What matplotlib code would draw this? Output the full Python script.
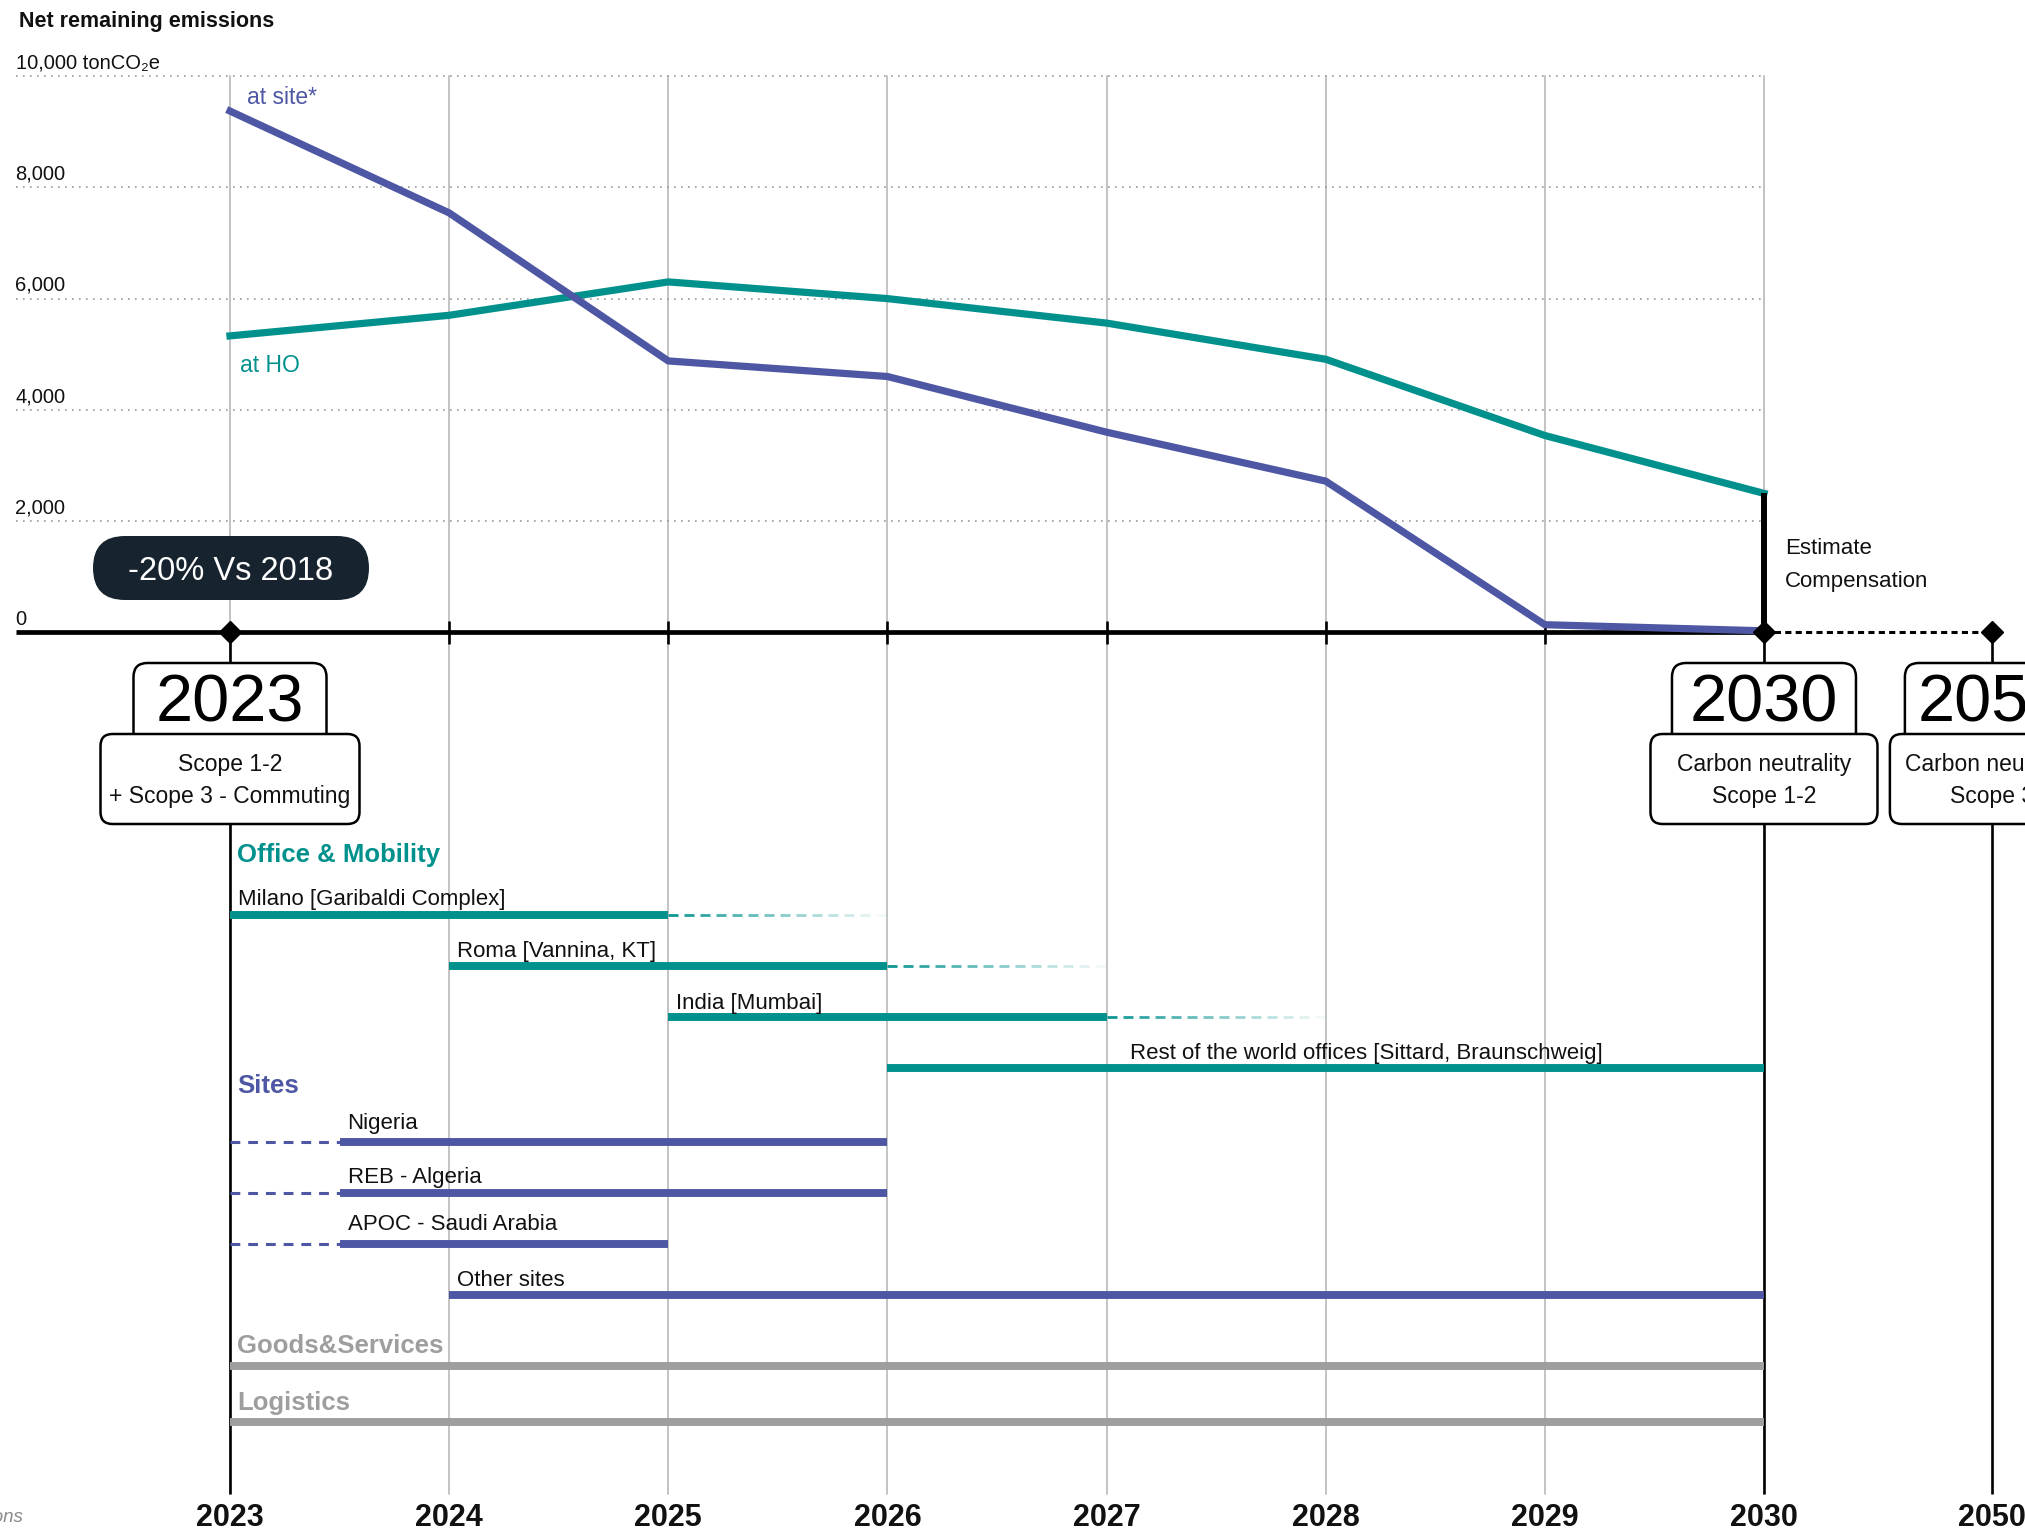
import matplotlib
matplotlib.use("Agg")
import matplotlib.pyplot as plt
from matplotlib.patches import FancyBboxPatch
from matplotlib.collections import LineCollection
from matplotlib.transforms import blended_transform_factory, offset_copy
from matplotlib.colors import to_rgba

plt.rcParams['font.family'] = ['Liberation Sans', 'DejaVu Sans']

# ---------------- data ----------------
years = [2023, 2024, 2025, 2026, 2027, 2028, 2029, 2030]
at_site = [9370, 7540, 4880, 4600, 3600, 2720, 140, 30]
at_ho = [5330, 5700, 6300, 6000, 5560, 4910, 3540, 2500]
ytick_values = [0, 2000, 4000, 6000, 8000, 10000]
ytick_labels = ["0", "2,000", "4,000", "6,000", "8,000", "10,000 tonCO\u2082e"]
bottom_years = [2023, 2024, 2025, 2026, 2027, 2028, 2029, 2030, 2050]

office_names = ["Milano [Garibaldi Complex]", "Roma [Vannina, KT]", "India [Mumbai]",
                "Rest of the world offices [Sittard, Braunschweig]"]
office_start = [2023, 2024, 2025, 2026]
office_end = [2025, 2026, 2027, 2030]
office_fade_end = [2026, 2027, 2028, None]
office_label_at = [2023, 2024, 2025, 2027.07]

site_names = ["Nigeria", "REB - Algeria", "APOC - Saudi Arabia", "Other sites"]
site_dash_start = [2023, 2023, 2023, None]
site_start = [2023.5, 2023.5, 2023.5, 2024]
site_end = [2026, 2026, 2025, 2030]

other_names = ["Goods&Services", "Logistics"]
other_start = [2023, 2023]
other_end = [2030, 2030]

milestones = [2023, 2030, 2050]
milestone_lines = [["Scope 1-2", "+ Scope 3 - Commuting"],
                   ["Carbon neutrality", "Scope 1-2"],
                   ["Carbon neutrality", "Scope 3"]]

TEAL = "#01918d"
PURPLE = "#4e57a3"
GREY = "#9e9e9e"
NAVY = "#172430"
GRID = "#b3b3b3"


def xp(year):
    # position on the (non-linear) timeline axis
    return (year - 2023) if year <= 2030 else 8.04


W, H = 2025, 1528
fig = plt.figure(figsize=(W / 100, H / 100), dpi=100)
fig.patch.set_facecolor("white")

PX_UNIT = 219.14          # px per year step
X_ORIGIN = 230.0          # px of 2023
X0 = -X_ORIGIN / PX_UNIT
X1 = (W - X_ORIGIN) / PX_UNIT
ZERO_PX = 632.5
PX_PER_K = 55.65
YT = ZERO_PX / PX_PER_K * 1000
YB = -(H - ZERO_PX) / PX_PER_K * 1000
DY = 3  # small text baseline nudge

lay = fig.add_axes([0, 0, 1, 1])
lay.set_xlim(0, W)
lay.set_ylim(H, 0)
lay.axis("off")

ax = fig.add_axes([0, 0, 1, 1], zorder=2)
ax.set_xlim(X0, X1)
ax.set_ylim(YB, YT)
ax.axis("off")
ax.patch.set_alpha(0)

blend = blended_transform_factory(ax.transData, lay.transData)
xleft = X0 + 15.5 / PX_UNIT

# ---------------- title ----------------
lay.text(19, 18 + DY, "Net remaining emissions", fontsize=15.5, fontweight="bold",
         ha="left", va="center", color="#111111")

# ---------------- grid ----------------
for v in ytick_values[1:]:
    ax.plot([xleft, xp(2030)], [v, v], color="#9a9a9a", lw=1.2,
            linestyle=(0, (1, 3.2)), zorder=1)
for v, lab in zip(ytick_values, ytick_labels):
    ax.annotate(lab, xy=(15.5 / W, v), xycoords=("figure fraction", "data"),
                xytext=(0, 9.5), textcoords="offset points", fontsize=14.5,
                ha="left", va="center", color="#111111")

for yr in years:
    lay.plot([xp(yr), xp(yr)], [76, 1494], color=GRID, lw=1.1, transform=blend, zorder=1)
for yr in milestones:
    lay.plot([xp(yr), xp(yr)], [ZERO_PX, 1494], color="black", lw=1.9,
             transform=blend, zorder=2, solid_capstyle="butt")

# ---------------- timeline axis ----------------
ax.plot([xleft, xp(2030)], [0, 0], color="black", lw=3.4, zorder=3, solid_capstyle="butt")
ax.plot([xp(2030), xp(2050)], [0, 0], color="black", lw=2.2, zorder=3,
        linestyle=(0, (2, 1.4)))
for yr in years[1:-1]:
    lay.plot([xp(yr), xp(yr)], [621, 644], color="black", lw=1.9, transform=blend,
             zorder=3, solid_capstyle="butt")

# ---------------- emission lines ----------------
xs = [xp(y) for y in years]
ax.plot(xs, at_ho, color=TEAL, lw=5.2, zorder=5, solid_joinstyle="miter")
ax.plot(xs, at_site, color=PURPLE, lw=5.2, zorder=5, solid_joinstyle="miter")
ax.plot([xp(2030), xp(2030)], [0, at_ho[-1]], color="black", lw=4.3, zorder=6,
        solid_capstyle="butt")
ax.plot([xp(m) for m in milestones], [0] * len(milestones), linestyle="none",
        marker="D", ms=11, color="black", zorder=7)

lay.text(247, 94 + DY, "at site*", fontsize=16.5, color=PURPLE, ha="left", va="center")
lay.text(240, 362 + DY, "at HO", fontsize=16.5, color=TEAL, ha="left", va="center")
lay.text(1785, 546 + DY, "Estimate", fontsize=16, color="#111111", ha="left", va="center")
lay.text(1785, 579 + DY, "Compensation", fontsize=16, color="#111111", ha="left", va="center")

# ---------------- pill ----------------
pill = FancyBboxPatch((93, 536), 276, 64, boxstyle="round,pad=0,rounding_size=32",
                      facecolor=NAVY, edgecolor="none", zorder=4)
lay.add_patch(pill)
lay.text(231, 569 + DY, "-20% Vs 2018", fontsize=23.5, color="white", ha="center",
         va="center", zorder=5)

# ---------------- milestone boxes ----------------
tab_half = [96.5, 92, 87]
low_half = [129.5, 113.5, 102]
for m, lines, th, lh in zip(milestones, milestone_lines, tab_half, low_half):
    cx = ax.transData.transform((xp(m), 0))[0]
    tab = FancyBboxPatch((cx - th, 663), 2 * th, 85,
                         boxstyle="round,pad=0,rounding_size=14",
                         facecolor="white", edgecolor="black", lw=1.8, zorder=4)
    low = FancyBboxPatch((cx - lh, 734), 2 * lh, 90,
                         boxstyle="round,pad=0,rounding_size=12",
                         facecolor="white", edgecolor="black", lw=1.8, zorder=5)
    lay.add_patch(tab)
    lay.add_patch(low)
    lay.text(cx, 702 + DY, str(m), fontsize=48, ha="center", va="center", zorder=6,
             color="black")
    for i, line in enumerate(lines):
        lay.text(cx, 762 + DY + 31 * i, line, fontsize=16.5, ha="center", va="center",
                 zorder=6, color="#111111")


# ---------------- gantt ----------------
def fade_dash(x_start, x_end, y, color, lw=2.0, dash=10, gap=6):
    d = dash / PX_UNIT
    g = gap / PX_UNIT
    segs, cols = [], []
    t = x_start
    while t < x_end:
        e = min(t + d, x_end)
        a = max(0.0, 1 - (t - x_start) / (x_end - x_start)) * 0.95
        segs.append([(t, y), (e, y)])
        cols.append(to_rgba(color, a))
        t = e + g
    lay.add_collection(LineCollection(segs, colors=cols, linewidths=lw,
                                      transform=blend, zorder=4, capstyle="butt"))


lab_tr = offset_copy(blend, fig=fig, x=8, y=0, units="dots")
head_tr = offset_copy(blend, fig=fig, x=7, y=0, units="dots")

lay.text(xp(2023), 852 + DY, "Office & Mobility", fontsize=18.5, fontweight="bold",
         color=TEAL, ha="left", va="center", transform=head_tr)
office_bar_y = [915, 966, 1017, 1068]
office_lab_y = [897, 948, 1000, 1051]
for name, s, e, f, la, by, ly in zip(office_names, office_start, office_end,
                                    office_fade_end, office_label_at,
                                    office_bar_y, office_lab_y):
    lay.plot([xp(s), xp(e)], [by, by], color=TEAL, lw=5.7, transform=blend,
             solid_capstyle="butt", zorder=4)
    if f is not None:
        fade_dash(xp(e), xp(f), by, TEAL)
    lay.text(xp(la), ly + DY, name, fontsize=16, color="#111111", ha="left",
             va="center", transform=lab_tr, zorder=5)

lay.text(xp(2023), 1083 + DY, "Sites", fontsize=18.5, fontweight="bold",
         color=PURPLE, ha="left", va="center", transform=head_tr)
site_bar_y = [1142, 1193, 1244, 1295]
site_lab_y = [1120, 1175, 1222, 1277]
for name, ds, s, e, by, ly in zip(site_names, site_dash_start, site_start, site_end,
                                  site_bar_y, site_lab_y):
    lay.plot([xp(s), xp(e)], [by, by], color=PURPLE, lw=5.7, transform=blend,
             solid_capstyle="butt", zorder=4)
    if ds is not None:
        lay.plot([xp(ds), xp(s)], [by, by], color=PURPLE, lw=2.2, transform=blend,
                 linestyle=(0, (3.2, 2.6)), zorder=4)
    lay.text(xp(s), ly + DY, name, fontsize=16, color="#111111", ha="left",
             va="center", transform=lab_tr, zorder=5)

other_bar_y = [1366, 1422]
other_lab_y = [1343, 1400]
for name, s, e, by, ly in zip(other_names, other_start, other_end, other_bar_y, other_lab_y):
    lay.plot([xp(s), xp(e)], [by, by], color=GREY, lw=5.7, transform=blend,
             solid_capstyle="butt", zorder=4)
    lay.text(xp(s), ly + DY, name, fontsize=18.5, fontweight="bold", color=GREY,
             ha="left", va="center", transform=head_tr, zorder=5)

# ---------------- bottom years ----------------
for yr in bottom_years:
    lay.text(xp(yr), 1515 + DY, str(yr), fontsize=22, fontweight="bold", ha="center",
             va="center", transform=blend, color="#111111")

lay.text(23, 1517, "*Site emissions", fontsize=13.5, style="italic", color="#8a8a8a",
         ha="right", va="center")

fig.savefig("out.png", dpi=100, facecolor="white")
